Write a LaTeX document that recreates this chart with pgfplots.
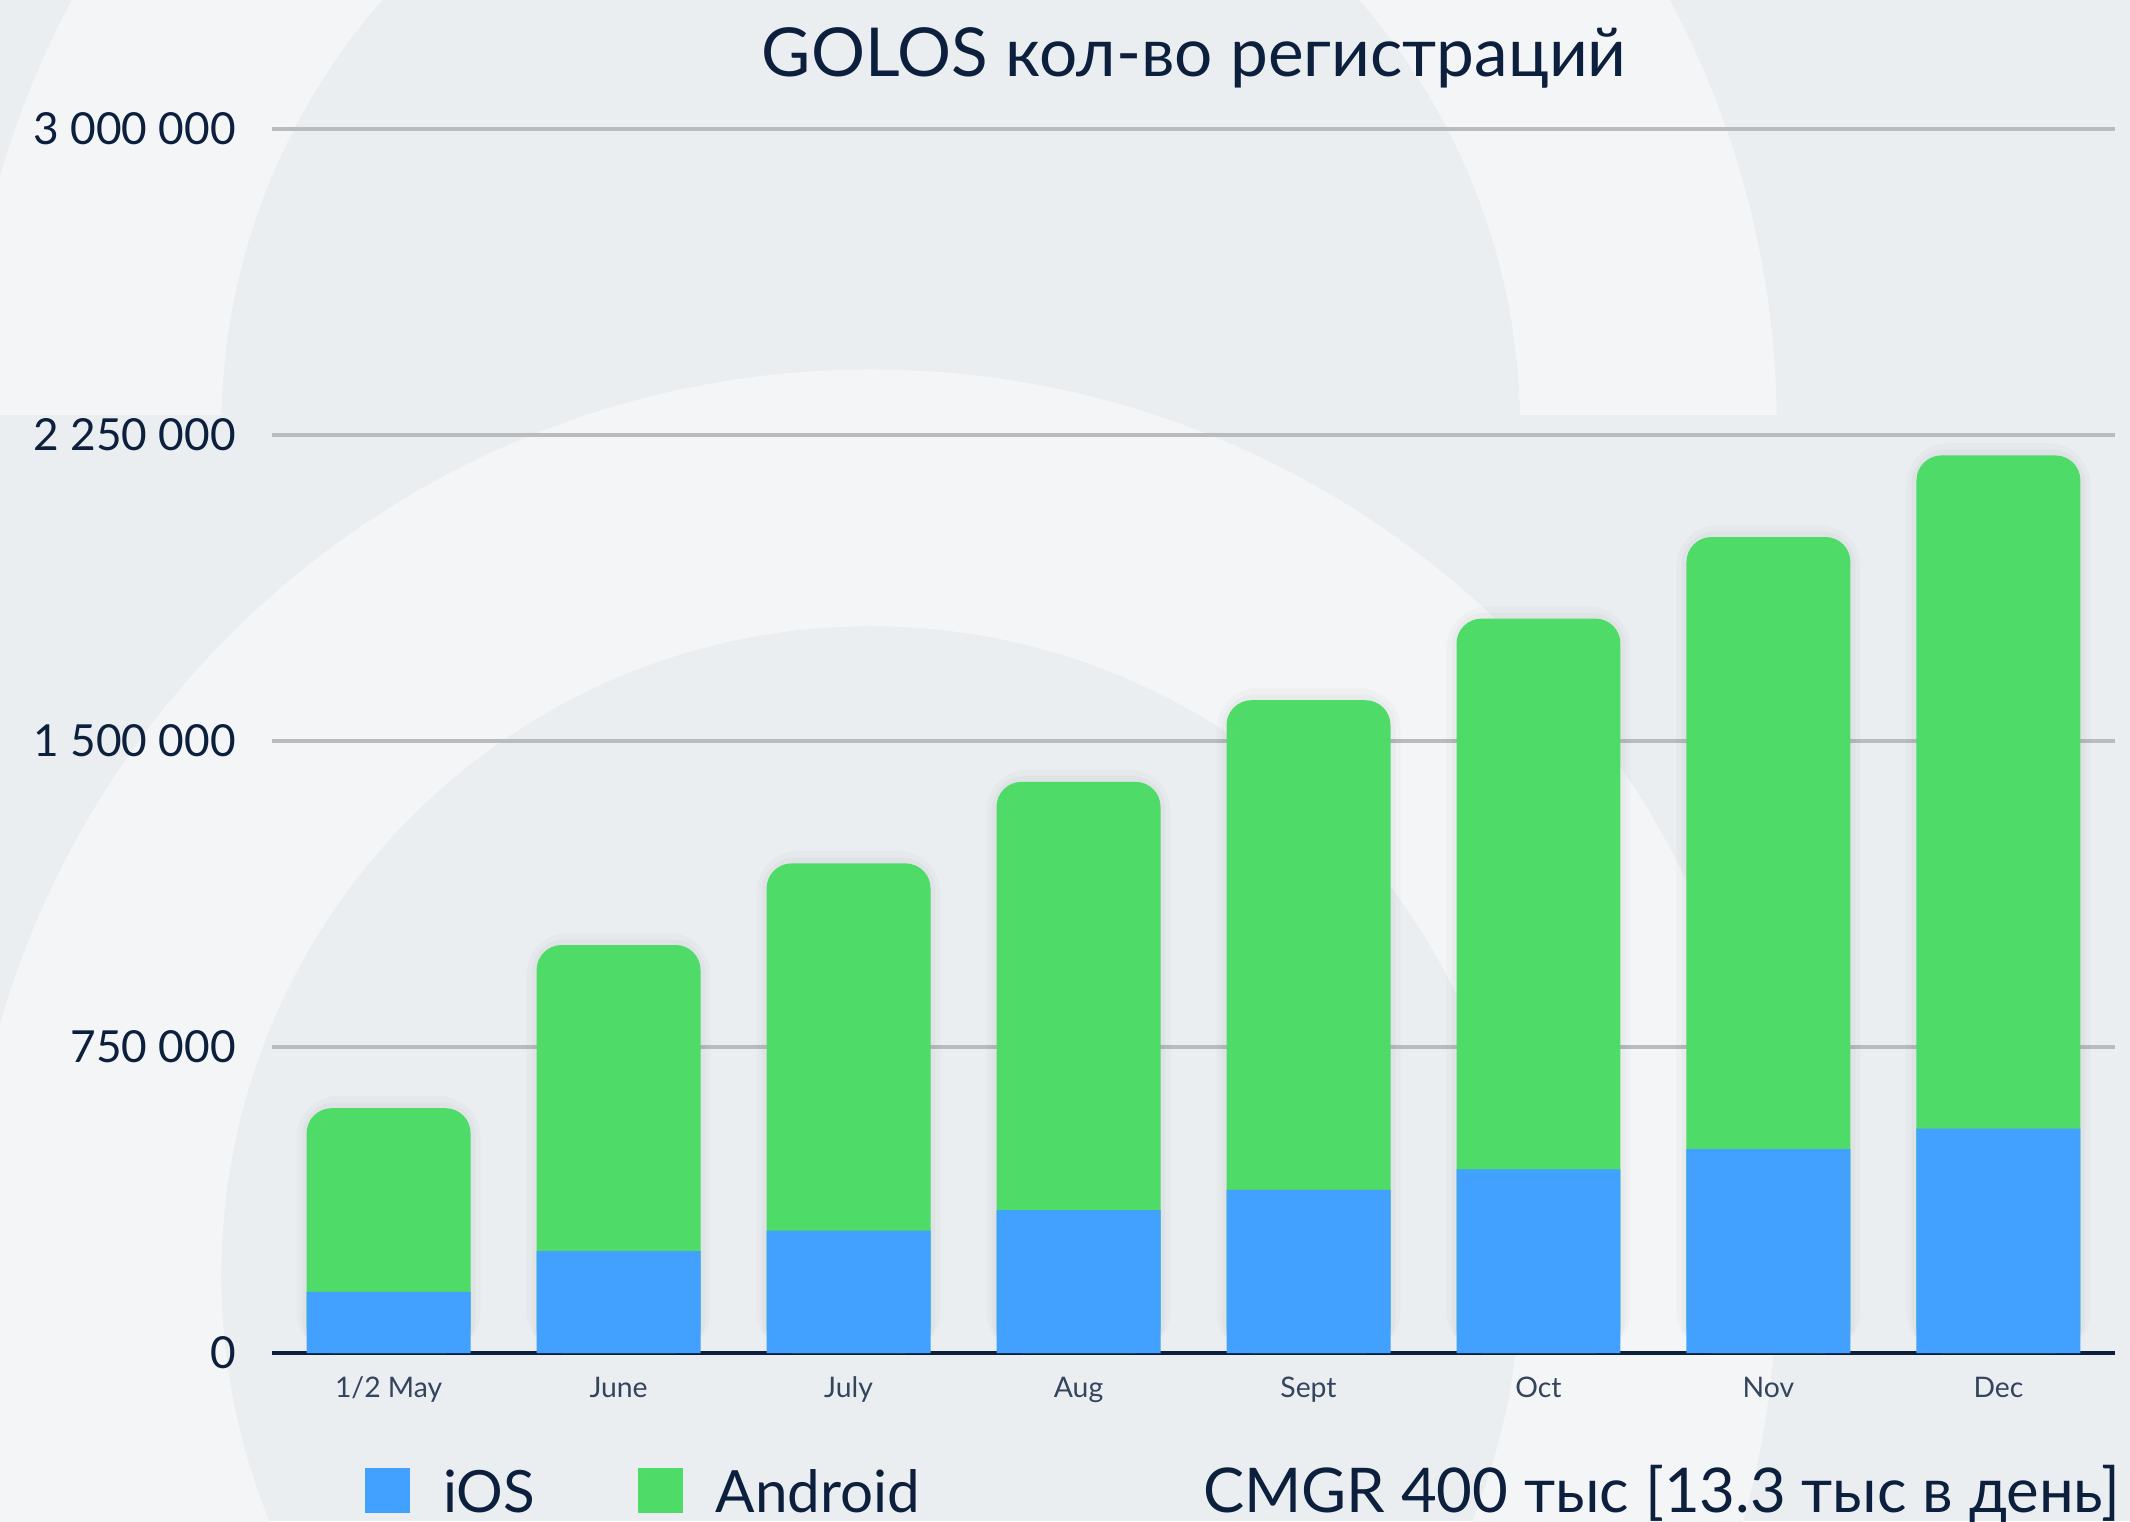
\documentclass[border=0pt]{standalone}
\usepackage{fontspec}
\setmainfont{Lato}
\usepackage{pgfplots}
\pgfplotsset{compat=1.18}
\usepackage{pgfplotstable}
\definecolor{bgdark}{HTML}{EAEEF1}
\definecolor{bglight}{HTML}{F4F5F7}
\definecolor{navy}{HTML}{0C1F3D}
\definecolor{ticknavy}{HTML}{34445C}
\definecolor{gridgray}{HTML}{B9BCBF}
\definecolor{iosblue}{HTML}{42A0FF}
\definecolor{andgreen}{HTML}{4EDB68}

\pgfplotstableread{
x ios android
0 150000 450000
1 250000 750000
2 300000 900000
3 350000 1050000
4 400000 1200000
5 450000 1350000
6 500000 1500000
7 550000 1650000
}\regdata

\begin{document}
\begin{tikzpicture}
\fill[bgdark] (0,0) rectangle (511.2pt,365.04pt);
\useasboundingbox (0,0) rectangle (511.2pt,365.04pt);
\begin{scope}[shift={(0pt,365.04pt)}, x=0.32602pt, y=-0.32602pt]
 \begin{scope}
  \clip (0,0) rectangle (1568,305);
  \fill[bglight, even odd rule] (641,315) circle (217.46pt) (641,315) circle (155.84pt);
 \end{scope}
 \fill[bglight, even odd rule] (641,939) circle (217.46pt) (641,939) circle (155.84pt);
\end{scope}
\begin{axis}[
  at={(65.28pt,40.32pt)}, anchor=south west,
  scale only axis, width=442.32pt, height=293.76pt,
  xmin=-0.507, xmax=7.507, ymin=0, ymax=3000000,
  scaled y ticks=false,
  separate axis lines,
  axis x line*=bottom, axis y line*=left,
  y axis line style={draw=none},
  x axis line style={draw=navy, line width=1pt, -},
  major tick length=0pt,
  xtick style={draw=none}, ytick style={draw=none},
  ytick={0,750000,1500000,2250000,3000000},
  yticklabels={0,750 000,1 500 000,2 250 000,3 000 000},
  xtick={0,1,2,3,4,5,6,7},
  xticklabels={1/2 May,June,July,Aug,Sept,Oct,Nov,Dec},
  ymajorgrids, grid style={gridgray, line width=0.75pt},
  yticklabel style={anchor=east, inner sep=0pt, xshift=-8.5pt, font=\fontsize{10.6}{12}\selectfont, text=navy},
  xticklabel style={anchor=base, inner sep=0pt, yshift=-10.6pt, font=\fontsize{6.8}{8}\selectfont, text=ticknavy},
  legend columns=2,
  legend cell align=left,
  legend image code/.code={\fill[#1] (0pt,-4.56pt) rectangle (10.8pt,6.24pt);},
  legend style={at={(0.0505,-0.1355)}, anchor=south west, draw=none, fill=none,
    inner sep=0pt, outer sep=0pt, font=\fontsize{14}{16}\selectfont, text=navy,
    nodes={inner sep=0pt},
    /tikz/every odd column/.style={column sep=7.9pt},
    /tikz/every even column/.style={column sep=24.7pt}},
]
\addlegendimage{fill=iosblue, draw=none}
\addlegendentry{iOS}
\addlegendimage{fill=andgreen, draw=none}
\addlegendentry{Android}
% soft halo around the bars
\addplot[ybar, bar width=0.80, bar shift=0pt, fill=black, fill opacity=0.018, draw=none, rounded corners=10pt, forget plot]
  table[x=x, y expr=\thisrow{ios}+\thisrow{android}+30000] {\regdata};
\addplot[ybar, bar width=0.755, bar shift=0pt, fill=black, fill opacity=0.022, draw=none, rounded corners=8pt, forget plot]
  table[x=x, y expr=\thisrow{ios}+\thisrow{android}+14000] {\regdata};
\addplot[ybar, bar width=0.713, bar shift=0pt, fill=andgreen, draw=none, rounded corners=6pt, forget plot]
  table[x=x, y expr=\thisrow{ios}+\thisrow{android}] {\regdata};
\addplot[ybar, bar width=0.713, bar shift=0pt, fill=iosblue, draw=none, forget plot]
  table[x=x, y=ios] {\regdata};
\end{axis}
\node[anchor=base, inner sep=0pt, text=navy, font=\fontsize{16.2}{18}\selectfont] at (286.6pt,346.6pt) {GOLOS кол-во регистраций};
\node[anchor=base east, inner sep=0pt, text=navy, font=\fontsize{14.8}{16}\selectfont] at (509pt,2.16pt) {CMGR 400 тыс [13.3 тыс в день]};
\end{tikzpicture}
\end{document}
